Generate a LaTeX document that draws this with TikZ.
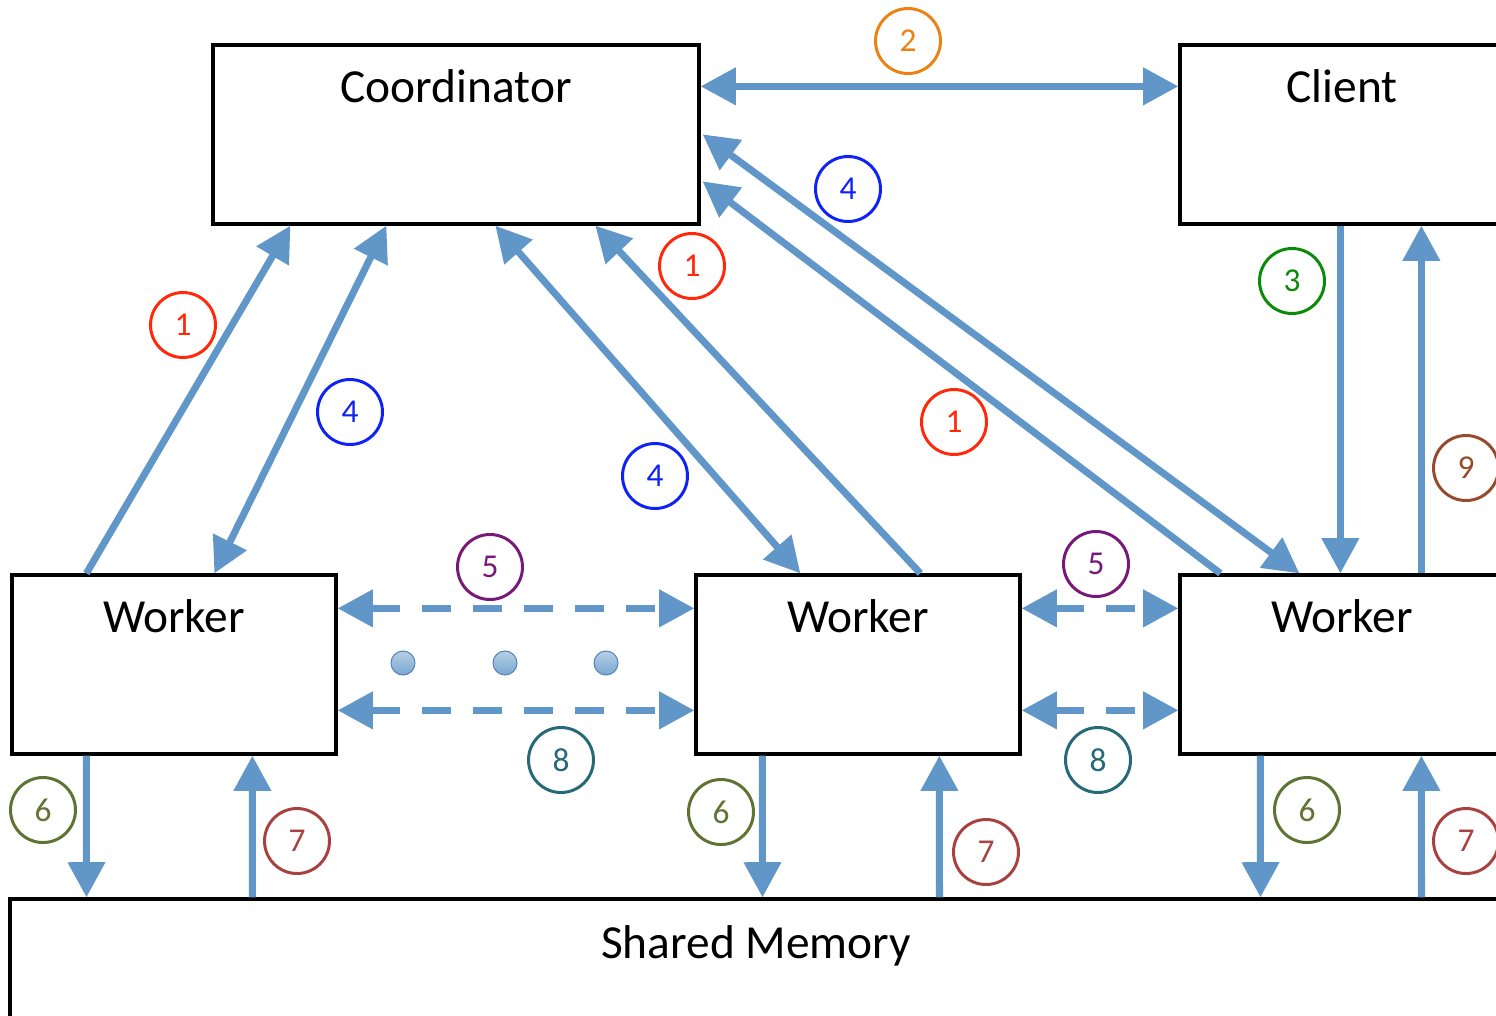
\documentclass[tikz,border=0pt]{standalone}
\usepackage{fontspec}
\setmainfont{Carlito}
\usetikzlibrary{arrows.meta,calc}

\definecolor{flowblue}{RGB}{97,150,201}
\definecolor{numred}{RGB}{255,40,10}
\definecolor{numorange}{RGB}{236,130,20}
\definecolor{numblue}{RGB}{15,35,245}
\definecolor{numgreen}{RGB}{10,140,10}
\definecolor{numpurple}{RGB}{120,25,120}
\definecolor{numteal}{RGB}{40,105,120}
\definecolor{numolive}{RGB}{95,115,50}
\definecolor{numbrick}{RGB}{170,65,65}
\definecolor{numbrown}{RGB}{150,75,45}

\tikzset{
  box/.style={draw=black, line width=1.9pt, minimum width=#1, minimum height=3.58cm, inner sep=0pt},
  boxtext/.style={anchor=base, font=\fontsize{27}{32}\selectfont},
  flow/.style={draw=flowblue, line width=4pt, -{Triangle[width=20.5pt,length=20pt]}},
  both/.style={flow, {Triangle[width=20.5pt,length=20pt]}-{Triangle[width=20.5pt,length=20pt]}},
  flowdash/.style={both, dash pattern=on 16.5pt off 12.5pt},
  num/.style={circle, draw=#1, text=#1, line width=1.7pt, minimum size=1.3cm, inner sep=0pt,
    font=\fontsize{19}{22}\selectfont},
  dot/.style={circle, draw=flowblue!90!black, line width=0.6pt, minimum size=0.48cm, inner sep=0pt,
    top color=flowblue!45!white, bottom color=flowblue!85!white}
}

\begin{document}
\begin{tikzpicture}[x=0.02cm, y=-0.02cm]
  \useasboundingbox (0,0) rectangle (1496,1015);
  \clip (0,0) rectangle (1496,1015);

  % boxes
  \node[box=9.72cm] (coord) at (456,134.5) {};
  \node[box=6.48cm] (client) at (1342,134.5) {};
  \node[box=6.48cm] (w1) at (174,664.5) {};
  \node[box=6.48cm] (w2) at (858,664.5) {};
  \node[box=6.48cm] (w3) at (1342,664.5) {};
  \node[box=29.84cm, minimum height=4.82cm] (sm) at (756,1019.5) {};

  \node[boxtext] (tcoord) at ($(coord.north)+(0,59)$) {Coordinator};
  \node[boxtext] (tclient) at ($(client.north)+(0,59)$) {Client};
  \node[boxtext] (tw1) at ($(w1.north)+(0,59)$) {Worker};
  \node[boxtext] (tw2) at ($(w2.north)+(0,59)$) {Worker};
  \node[boxtext] (tw3) at ($(w3.north)+(0,59)$) {Worker};
  \node[boxtext] (tsm) at ($(sm.north)+(0,61)$) {Shared Memory};

  % coordinator and client
  \draw[both] ($(coord.north east)+(0,43)$) -- ($(client.north west)+(0,43)$);
  \draw[flow] ($(client.south west)+(162,0)$) -- ($(w3.north west)+(162,0)$);
  \draw[flow] ($(w3.north west)+(243,0)$) -- ($(client.south west)+(243,0)$);

  % workers to coordinator
  \draw[flow] ($(w1.north west)+(76,0)$) -- ($(coord.south west)+(79,0)$);
  \draw[both] ($(coord.south west)+(175,0)$) -- ($(w1.north west)+(204,0)$);
  \draw[both] ($(coord.south west)+(284,0)$) -- ($(w2.north west)+(106,0)$);
  \draw[flow] ($(w2.north west)+(226,0)$) -- ($(coord.south west)+(384,0)$);
  \draw[both] ($(coord.north east)+(2,91)$) -- ($(w3.north west)+(121,0)$);
  \draw[flow] ($(w3.north west)+(42,0)$) -- ($(coord.north east)+(2,138)$);

  % between workers
  \draw[flowdash] ($(w1.north east)+(0,35)$) -- ($(w2.north west)+(0,35)$);
  \draw[flowdash] ($(w1.north east)+(0,137)$) -- ($(w2.north west)+(0,137)$);
  \draw[flowdash] ($(w2.north east)+(0,35)$) -- ($(w3.north west)+(0,35)$);
  \draw[flowdash] ($(w2.north east)+(0,137)$) -- ($(w3.north west)+(0,137)$);
  \node[dot] (d1) at (403,663) {};
  \node[dot] (d2) at (505,663) {};
  \node[dot] (d3) at (606,663) {};

  % shared memory
  \draw[flow] ($(w1.south west)+(76,0)$) -- ($(sm.north west)+(78,0)$);
  \draw[flow] ($(sm.north west)+(244,0)$) -- ($(w1.south west)+(242,0)$);
  \draw[flow] ($(w2.south west)+(68,0)$) -- ($(sm.north west)+(754,0)$);
  \draw[flow] ($(sm.north west)+(931,0)$) -- ($(w2.south west)+(245,0)$);
  \draw[flow] ($(w3.south west)+(82,0)$) -- ($(sm.north west)+(1252,0)$);
  \draw[flow] ($(sm.north west)+(1413,0)$) -- ($(w3.south west)+(243,0)$);

  % step numbers
  \node[num=numorange] (n2) at (908,41) {2};
  \node[num=numred] (n1a) at (183,325) {1};
  \node[num=numred] (n1b) at (692,266) {1};
  \node[num=numred] (n1c) at (954,422) {1};
  \node[num=numblue] (n4a) at (350,412) {4};
  \node[num=numblue] (n4b) at (655,476) {4};
  \node[num=numblue] (n4c) at (848,189) {4};
  \node[num=numgreen] (n3) at (1292,281) {3};
  \node[num=numbrown] (n9) at (1466,468) {9};
  \node[num=numpurple] (n5a) at (490,567) {5};
  \node[num=numpurple] (n5b) at (1096,564) {5};
  \node[num=numteal] (n8a) at (561,760) {8};
  \node[num=numteal] (n8b) at (1098,760) {8};
  \node[num=numolive] (n6a) at (43,810) {6};
  \node[num=numolive] (n6b) at (721,812) {6};
  \node[num=numolive] (n6c) at (1307,810) {6};
  \node[num=numbrick] (n7a) at (297,841) {7};
  \node[num=numbrick] (n7b) at (986,852) {7};
  \node[num=numbrick] (n7c) at (1466,841) {7};
\end{tikzpicture}
\end{document}
